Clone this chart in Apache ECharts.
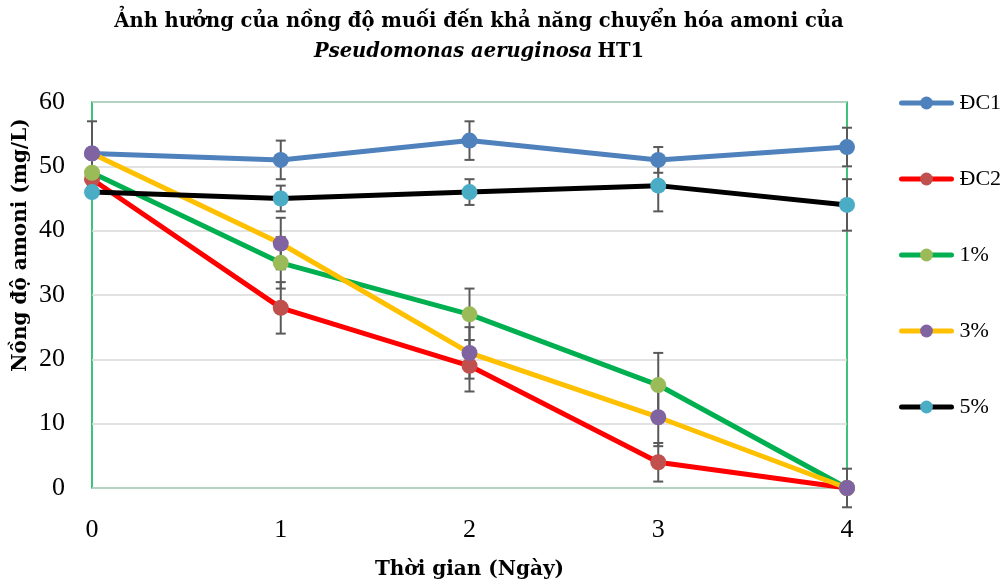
<!DOCTYPE html>
<html><head><meta charset="utf-8">
<script src="https://cdn.jsdelivr.net/npm/echarts@6/dist/echarts.min.js"></script>
<style>html,body{margin:0;padding:0;background:#fff}#c{width:1003px;height:587px}</style>
</head><body><div id="c"></div>
<script>
const days = [0, 1, 2, 3, 4];
const seriesNames = ['ĐC1', 'ĐC2', '1%', '3%', '5%'];
const dc1 = [52, 51, 54, 51, 53];
const dc2 = [48, 28, 19, 4, 0];
const s1 = [49, 35, 27, 16, 0];
const s3 = [52, 38, 21, 11, 0];
const s5 = [46, 45, 46, 47, 44];
const dc1Err = [5, 3, 3, 2, 3];
const dc2Err = [0, 4, 4, 3, 0];
const s1Err = [0, 4, 4, 5, 3];
const s3Err = [0, 4, 4, 4.5, 0];
const s5Err = [0, 2, 2, 4, 4];
const yTicks = [0, 10, 20, 30, 40, 50, 60];

const values = [dc1, dc2, s1, s3, s5];
const errs = [dc1Err, dc2Err, s1Err, s3Err, s5Err];
const lineColors = ['#4F81BD', '#FF0000', '#00B050', '#FFC000', '#000000'];
const markerColors = ['#4F81BD', '#C0504D', '#9BBB59', '#8064A2', '#4BACC6'];
const BOLDFONT = 'DejaVu Serif';
const FONT = 'Liberation Serif';

const series = [];
values.forEach((v, i) => {
  const errData = [];
  days.forEach((d, j) => { if (errs[i][j] > 0) errData.push([d, v[j] - errs[i][j], v[j] + errs[i][j]]); });
  series.push({
    type: 'custom', name: seriesNames[i] + '_err', z: 1, silent: true,
    data: errData,
    renderItem: function (params, api) {
      const x = api.value(0);
      const lo = api.coord([x, api.value(1)]);
      const hi = api.coord([x, api.value(2)]);
      const hw = 5;
      const st = { stroke: '#595959', lineWidth: 2 };
      return { type: 'group', children: [
        { type: 'line', shape: { x1: lo[0], y1: lo[1], x2: hi[0], y2: hi[1] }, style: st },
        { type: 'line', shape: { x1: lo[0] - hw, y1: lo[1], x2: lo[0] + hw, y2: lo[1] }, style: st },
        { type: 'line', shape: { x1: hi[0] - hw, y1: hi[1], x2: hi[0] + hw, y2: hi[1] }, style: st }
      ]};
    }
  });
});
values.forEach((v, i) => {
  series.push({
    type: 'line', name: seriesNames[i], z: 3,
    data: days.map((d, j) => [d, v[j]]),
    symbol: 'circle', symbolSize: 16, showAllSymbol: true,
    lineStyle: { color: lineColors[i], width: 5 },
    itemStyle: { color: markerColors[i], borderWidth: 0 },
    emphasis: { disabled: true }
  });
});

const chart = echarts.init(document.getElementById('c'));
chart.setOption({
  animation: false,
  title: {
    left: 474, textAlign: 'center', top: 2,
    text: '{a|Ảnh hưởng của nồng độ muối đến khả năng chuyển hóa amoni của}\n{i|Pseudomonas aeruginosa} {a|HT1}',
    textStyle: {
      rich: {
        a: { fontFamily: BOLDFONT, fontWeight: 'bold', fontSize: 19.5, color: '#000', lineHeight: 30 },
        i: { fontFamily: BOLDFONT, fontWeight: 'bold', fontStyle: 'italic', fontSize: 19.5, color: '#000', lineHeight: 30 }
      }
    }
  },
  legend: {
    orient: 'vertical', left: 894, top: 87, itemGap: 54,
    itemWidth: 50, itemHeight: 16,
    data: seriesNames,
    lineStyle: { width: 5, cap: 'round' },
    textStyle: { fontFamily: FONT, fontSize: 22, color: '#000', padding: [0, 0, 0, 3] }
  },
  graphic: [{
    type: 'text', x: 21, y: 245, rotation: Math.PI / 2,
    style: { text: 'Nồng độ amoni (mg/L)', fontFamily: BOLDFONT, fontWeight: 'bold', fontSize: 20,
      fill: '#000', align: 'center', verticalAlign: 'middle' }
  }],
  grid: { left: 92, right: 156, top: 102, bottom: 99, show: true, borderColor: '#00B050', borderWidth: 1.5 },
  xAxis: {
    type: 'value', min: 0, max: 4, interval: 1,
    name: 'Thời gian (Ngày)', nameLocation: 'middle', nameGap: 72,
    nameTextStyle: { fontFamily: BOLDFONT, fontWeight: 'bold', fontSize: 20, color: '#000' },
    axisLine: { show: false }, axisTick: { show: false }, splitLine: { show: false },
    axisLabel: { fontFamily: FONT, fontSize: 26, color: '#000', margin: 29 }
  },
  yAxis: {
    type: 'value', min: 0, max: 60, interval: 10,
    axisLine: { show: false }, axisTick: { show: false },
    splitLine: { lineStyle: { color: '#D9D9D9', width: 1.5 } },
    axisLabel: { fontFamily: FONT, fontSize: 26, color: '#000', margin: 27,
      formatter: v => yTicks.includes(v) ? String(v) : '' }
  },
  series: series
});
</script></body></html>
